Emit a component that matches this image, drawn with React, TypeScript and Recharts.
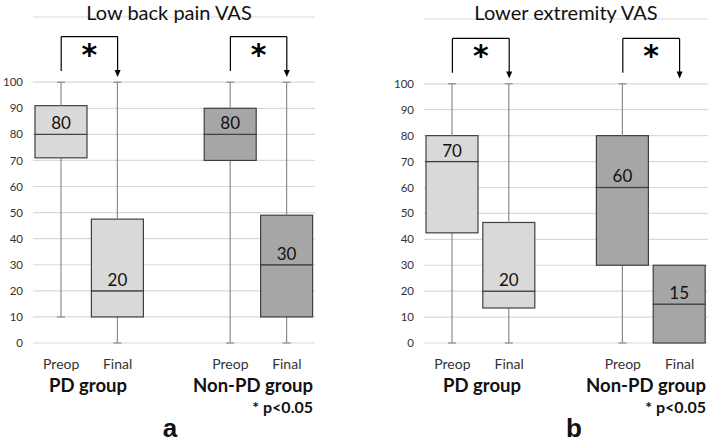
import { ComposedChart, Bar, XAxis, YAxis, CartesianGrid, ReferenceLine, LabelList } from 'recharts';

const categories = ['PD-Preop', 'PD-Final', 'gap', 'NonPD-Preop', 'NonPD-Final'];
const tickLabels = ['Preop', 'Final', '', 'Preop', 'Final'];
const yTicks = [0, 10, 20, 30, 40, 50, 60, 70, 80, 90, 100];
const boxFills = ['#d9d9d9', '#d9d9d9', 'none', '#a6a6a6', '#a6a6a6'];

// (a) Low back pain VAS
const lbpMin = [10, 0, null, 0, 0];
const lbpQ1 = [71, 10, null, 70, 10];
const lbpMedian = [80, 20, null, 80, 30];
const lbpQ3 = [91, 47.5, null, 90, 49];
const lbpMax = [100, 100, null, 100, 100];

// (b) Lower extremity VAS
const leMin = [0, 0, null, 0, 0];
const leQ1 = [42.5, 13.5, null, 30, 0];
const leMedian = [70, 20, null, 60, 15];
const leQ3 = [80, 46.5, null, 80, 30];
const leMax = [100, 100, null, 100, 30];

// significance brackets (Preop -> Final in each group)
const brackets = [
  { from: 'PD-Preop', to: 'PD-Final' },
  { from: 'NonPD-Preop', to: 'NonPD-Final' },
];
const bracketTop = 117.5;
const bracketFoot = 104.3;
const arrowTip = 102;

const FONT = 'Lato, "Open Sans", sans-serif';
const WHISKER = '#8c8c8c';
const EDGE = '#404040';

function buildRows(min: any[], q1: any[], med: any[], q3: any[], max: any[]) {
  return categories.map((cat, i) => {
    if (min[i] == null) return { cat };
    return {
      cat,
      fill: boxFills[i],
      median: med[i],
      base: min[i],
      wLow: q1[i] - min[i],
      boxLow: med[i] - q1[i],
      boxHigh: q3[i] - med[i],
      wHigh: max[i] - q3[i],
    };
  });
}

const Empty = () => null;

const WhiskerLow = (p: any) => {
  const { x, y, width, height } = p;
  if (!height) return null;
  const cx = x + width / 2;
  return (
    <g>
      <line x1={cx} x2={cx} y1={y} y2={y + height} stroke={WHISKER} strokeWidth={1.2} />
      <line x1={cx - 4} x2={cx + 4} y1={y + height} y2={y + height} stroke={WHISKER} strokeWidth={1.2} />
    </g>
  );
};

const WhiskerHigh = (p: any) => {
  const { x, y, width, height } = p;
  if (!height) return null;
  const cx = x + width / 2;
  return (
    <g>
      <line x1={cx} x2={cx} y1={y} y2={y + height} stroke={WHISKER} strokeWidth={1.2} />
      <line x1={cx - 4} x2={cx + 4} y1={y} y2={y} stroke={WHISKER} strokeWidth={1.2} />
    </g>
  );
};

const Box = (p: any) => {
  const { x, y, width, height, payload } = p;
  if (!height) return null;
  return <rect x={x} y={y} width={width} height={height} fill={payload.fill} stroke={EDGE} strokeWidth={1.2} />;
};

const BracketTop = (p: any) => (
  <g>
    <line x1={p.x1} y1={p.y1} x2={p.x2} y2={p.y2} stroke="#000" strokeWidth={1.2} />
    <text x={(p.x1 + p.x2) / 2} y={p.y1 + 28} textAnchor="middle" fontSize={30} fontWeight="bold"
      fontFamily="DejaVu Sans" fill="#000">*</text>
  </g>
);

const ArrowLeg = (p: any) => {
  const tipY = Math.max(p.y1, p.y2);
  return (
    <g>
      <line x1={p.x1} y1={Math.min(p.y1, p.y2)} x2={p.x2} y2={tipY - 5} stroke="#000" strokeWidth={1.2} />
      <path d={`M${p.x1 - 3},${tipY - 7} L${p.x1 + 3},${tipY - 7} L${p.x1},${tipY} Z`} fill="#000" />
    </g>
  );
};

function Panel({ rows, width, marginTop, marginRight }: any) {
  return (
    <ComposedChart width={width} height={443} data={rows}
      margin={{ top: marginTop, right: marginRight, left: 0, bottom: 70 }}
      barSize={52} barCategoryGap={0}>
      <CartesianGrid vertical={false} stroke="#d9d9d9" strokeWidth={1.2} />
      <XAxis dataKey="cat" height={30} axisLine={false} tickLine={false} tickMargin={10}
        interval={0}
        tickFormatter={(_v: any, i: number) => tickLabels[i]}
        tick={{ fill: '#333', fontSize: 14, fontFamily: FONT }} />
      <YAxis domain={[0, 125]} ticks={yTicks} width={33} axisLine={false} tickLine={false}
        tickMargin={4} interval={0}
        tick={{ fill: '#333', fontSize: 11.5, fontFamily: FONT }} />
      <Bar dataKey="base" stackId="b" shape={Empty} isAnimationActive={false} />
      <Bar dataKey="wLow" stackId="b" shape={WhiskerLow} isAnimationActive={false} />
      <Bar dataKey="boxLow" stackId="b" shape={Box} isAnimationActive={false}>
        <LabelList dataKey="median" position="top" offset={5}
          style={{ fill: '#111', fontSize: 17, fontFamily: FONT }} />
      </Bar>
      <Bar dataKey="boxHigh" stackId="b" shape={Box} isAnimationActive={false} />
      <Bar dataKey="wHigh" stackId="b" shape={WhiskerHigh} isAnimationActive={false} />
      {brackets.map((b) => [
        <ReferenceLine key={b.from + 'l'} segment={[{ x: b.from, y: bracketFoot }, { x: b.from, y: bracketTop }]}
          stroke="#000" strokeWidth={1.2} />,
        <ReferenceLine key={b.from + 't'} segment={[{ x: b.from, y: bracketTop }, { x: b.to, y: bracketTop }]}
          shape={BracketTop} />,
        <ReferenceLine key={b.from + 'r'} segment={[{ x: b.to, y: bracketTop }, { x: b.to, y: arrowTip }]}
          shape={ArrowLeg} />,
      ])}
    </ComposedChart>
  );
}

const abs = (left: number, top: number, extra: any = {}) => ({
  position: 'absolute' as const, left, top, whiteSpace: 'nowrap' as const, fontFamily: FONT, color: '#111',
  lineHeight: 'normal', ...extra,
});

const TITLE = { transform: 'translateX(-50%)', fontSize: 20 };
const GROUP = { fontSize: 18.5, fontWeight: 'bold' };
const PNOTE = { transform: 'translateX(-100%)', fontSize: 16, fontWeight: 'bold' };
const BOLD_AB = { transform: 'translateX(-50%)', fontSize: 26, fontWeight: 'bold', fontFamily: '"Liberation Sans", Arial, sans-serif' };

export default function App() {
  const rowsA = buildRows(lbpMin, lbpQ1, lbpMedian, lbpQ3, lbpMax);
  const rowsB = buildRows(leMin, leQ1, leMedian, leQ3, leMax);
  return (
    <div style={{ position: 'absolute', left: 0, top: 0, width: 709, height: 443, background: '#fff', overflow: 'hidden' }}>
      <div style={{ position: 'absolute', left: 0, top: 0 }}>
        <Panel rows={rowsA} width={330} marginTop={17} marginRight={15} />
      </div>
      <div style={{ position: 'absolute', left: 391, top: 0 }}>
        <Panel rows={rowsB} width={318} marginTop={19} marginRight={1} />
      </div>

      <div style={abs(169, 0, TITLE)}>Low back pain VAS</div>
      <div style={abs(566, 0, TITLE)}>Lower extremity VAS</div>

      <div style={abs(88, 373.5, { transform: 'translateX(-50%)', ...GROUP })}>PD group</div>
      <div style={abs(313, 373.5, { transform: 'translateX(-100%)', ...GROUP })}>Non-PD group</div>
      <div style={abs(313, 396.5, PNOTE)}>* p&lt;0.05</div>

      <div style={abs(482, 373.5, { transform: 'translateX(-50%)', ...GROUP })}>PD group</div>
      <div style={abs(706, 373.5, { transform: 'translateX(-100%)', ...GROUP })}>Non-PD group</div>
      <div style={abs(706, 396.5, PNOTE)}>* p&lt;0.05</div>

      <div style={abs(170, 413, BOLD_AB)}>a</div>
      <div style={abs(574, 413, BOLD_AB)}>b</div>
    </div>
  );
}
